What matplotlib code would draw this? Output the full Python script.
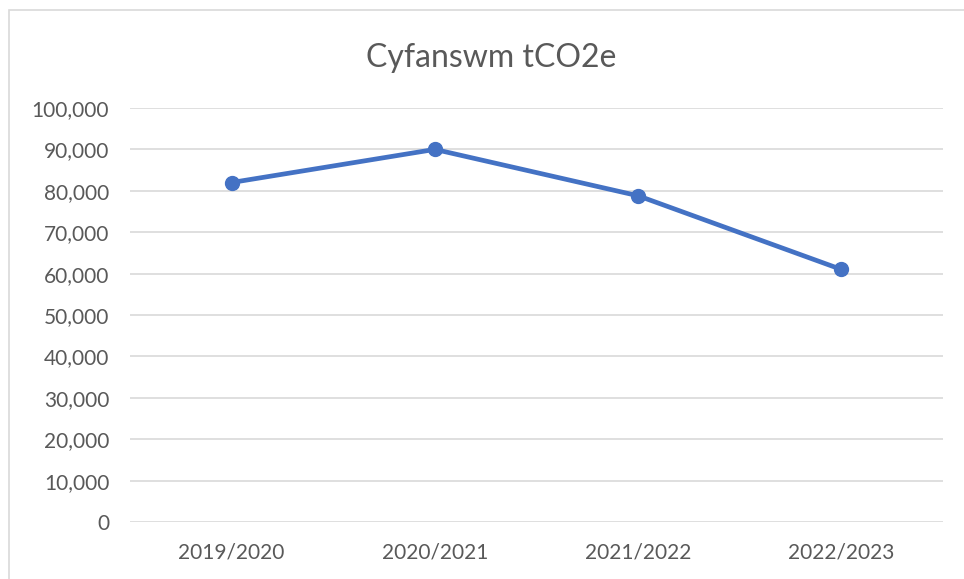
import matplotlib.pyplot as plt
from matplotlib.patches import Rectangle
from matplotlib.ticker import FuncFormatter

plt.rcParams["font.family"] = ["Lato", "DejaVu Sans"]

years = ["2019/2020", "2020/2021", "2021/2022", "2022/2023"]
totals = [82000, 90000, 78800, 61000]
y_ticks = list(range(0, 100001, 10000))

fig = plt.figure(figsize=(9.64, 5.79), dpi=100)

# light chart-area border (only left and top visible in the crop)
fig.patches.append(Rectangle((9 / 964, -0.1), 1.2, 1 - 10 / 579 + 0.1,
                             transform=fig.transFigure, fill=False,
                             edgecolor="#D9D9D9", linewidth=1.2))

ax = fig.add_axes([130 / 964, 57 / 579, 813 / 964, 414 / 579])
x = range(len(years))
ax.plot(x, totals, color="#4472C4", linewidth=3.4, marker="o",
        markersize=10, zorder=3)

ax.set_xlim(-0.5, len(years) - 0.5)
ax.set_ylim(0, 100000)
ax.set_xticks(list(x))
ax.set_xticklabels(years)
ax.set_yticks(y_ticks)
ax.yaxis.set_major_formatter(FuncFormatter(lambda v, _: f"{int(v):,}"))
ax.grid(axis="y", color="#D9D9D9", linewidth=1.2)
ax.set_axisbelow(True)
for s in ax.spines.values():
    s.set_visible(False)
ax.tick_params(axis="both", length=0, labelsize=15, colors="#595959")
ax.tick_params(axis="y", pad=15)
ax.tick_params(axis="x", pad=15)

fig.text(491 / 964, 1 - 58 / 579, "Cyfanswm tCO2e", ha="center", va="center",
         fontsize=23, color="#595959")

fig.savefig("out.png", dpi=100)
